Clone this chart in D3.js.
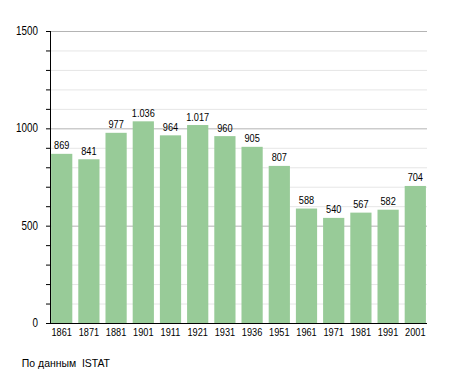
<!DOCTYPE html>
<html><head><meta charset="utf-8">
<script src="https://cdn.jsdelivr.net/npm/d3@7"></script>
<style>body{margin:0;background:#fff}svg{display:block}text{font-family:"Liberation Sans",Arial,sans-serif;fill:#000}.foot{white-space:pre}</style>
</head><body>
<script>
const years = ["1861","1871","1881","1901","1911","1921","1931","1936","1951","1961","1971","1981","1991","2001"];
const population = [869,841,977,1036,964,1017,960,905,807,588,540,567,582,704];
const majorTicks = [0,500,1000,1500];
const minorTicks = d3.range(0,1501,100);
const source = "По данным  ISTAT";

const W=455,H=373;
const svg=d3.select("body").append("svg").attr("width",W).attr("height",H);
const x=d3.scaleBand().domain(years).range([50,427]).paddingInner(0.22).paddingOuter(0.04);
const y=d3.scaleLinear().domain([0,1500]).range([323,31]);
const fmt=d3.formatLocale({decimal:",",thousands:".",grouping:[3],currency:["",""]}).format(",");
const SX=0.8;

svg.append("g").selectAll("line").data(minorTicks.filter(d=>d%500!==0)).join("line")
 .attr("x1",50).attr("x2",427).attr("y1",d=>y(d)+0.5).attr("y2",d=>y(d)+0.5).attr("stroke","#e6e6e6");
svg.append("g").selectAll("line").data(majorTicks.filter(d=>d>0)).join("line")
 .attr("x1",50).attr("x2",427).attr("y1",d=>y(d)+0.5).attr("y2",d=>y(d)+0.5).attr("stroke","#b4b4b4");

svg.append("g").selectAll("rect").data(population).join("rect")
 .attr("x",(d,i)=>x(years[i])).attr("width",x.bandwidth())
 .attr("y",d=>y(d)).attr("height",d=>y(0)-y(d)).attr("fill","#98cb98");

svg.append("g").selectAll("text").data(population).join("text")
 .attr("transform",(d,i)=>`translate(${x(years[i])+x.bandwidth()/2},${y(d)-4.5}) scale(${SX},1)`)
 .attr("text-anchor","middle").attr("font-size",11.5).text(d=>fmt(d));

// y axis ticks
svg.append("g").selectAll("line").data(minorTicks).join("line")
 .attr("x1",46).attr("x2",50.5).attr("y1",d=>y(d)+0.5).attr("y2",d=>y(d)+0.5).attr("stroke","#000");
svg.append("g").selectAll("text").data(majorTicks).join("text")
 .attr("transform",d=>`translate(38,${y(d)+4}) scale(0.82,1)`)
 .attr("text-anchor","end").attr("font-size",12).text(d=>d);
svg.append("line").attr("x1",50.5).attr("x2",50.5).attr("y1",31).attr("y2",323.5).attr("stroke","#000");
// x axis
svg.append("line").attr("x1",50).attr("x2",427).attr("y1",323.5).attr("y2",323.5).attr("stroke","#000");
svg.append("g").selectAll("text").data(years).join("text")
 .attr("transform",d=>`translate(${x(d)+x.bandwidth()/2},336) scale(${SX},1)`)
 .attr("text-anchor","middle").attr("font-size",11.5).text(d=>d);

svg.append("text").attr("class","foot").attr("x",19).attr("y",367).attr("font-size",11)
 .attr("transform","translate(3.8,0) scale(0.95,1)").text(source);
</script>
</body></html>
